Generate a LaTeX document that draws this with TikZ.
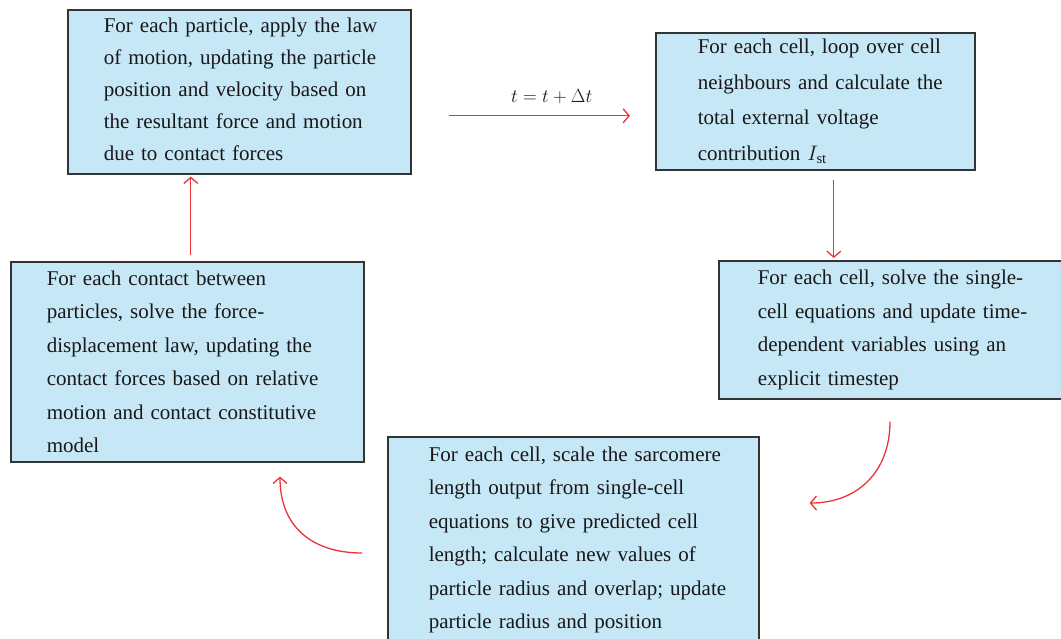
\RequirePackage{fix-cm}
\documentclass[tikz,border=0pt]{standalone}
\usepackage{fontspec}
\setmainfont{Liberation Serif}
\usetikzlibrary{arrows.meta}
\setlength\parindent{0pt}

\definecolor{boxfill}{HTML}{C5E7F6}
\definecolor{boxline}{HTML}{333333}
\definecolor{flowred}{HTML}{EE3338}
\definecolor{inktext}{HTML}{1A1718}

\tikzset{
	stage/.style={draw=boxline, fill=boxfill, line width=1.6pt, anchor=north west,
		inner sep=0pt, align=left, text=inktext,
		font=\fontsize{21}{33.5}\selectfont,
		execute at begin node={\leftskip=#1}},
	flow/.style={draw=flowred, line width=1.3pt, -{Straight Barb[length=6pt,width=14pt]}},
}

\begin{document}
\begin{tikzpicture}[x=1pt,y=-1pt]
	\useasboundingbox (0,0) rectangle (1061,638);
	\clip (0,0) rectangle (1061,638);

	% boxes
	\node[stage=36pt, text width=343pt, minimum height=164pt, inner ysep=0pt, font=\fontsize{21}{32}\selectfont] (motion) at (67,9)
		{For each particle, apply the law\\ of motion, updating the particle\\ position and velocity based on\\ the resultant force and motion\\ due to contact forces\vspace{4pt}};
	\node[stage=42pt, text width=319pt, minimum height=137pt, font=\fontsize{21}{35.5}\selectfont] (voltage) at (655,32)
		{For each cell, loop over cell\\ neighbours and calculate the\\ total external voltage\\ contribution $I_{\mathrm{st}}$};
	\node[stage=39pt, text width=360pt, minimum height=138pt] (solve) at (718,260)
		{For each cell, solve the single-\\ cell equations and update time-\\ dependent variables using an\\ explicit timestep};
	\node[stage=41pt, text width=371pt, minimum height=206pt] (cells) at (387,436)
		{For each cell, scale the sarcomere\\ length output from single-cell\\ equations to give predicted cell\\ length; calculate new values of\\ particle radius and overlap; update\\ particle radius and position};
	\node[stage=36pt, text width=353pt, minimum height=200pt] (contact) at (10,261)
		{For each contact between\\ particles, solve the force-\\ displacement law, updating the\\ contact forces based on relative\\ motion and contact constitutive\\ model};

	% connectors
	\coordinate (tstart) at ([shift={(37,24)}]motion.east);
	\draw[flow, shorten >=25pt] (tstart) -- (tstart -| voltage.west)
		node[midway, above=8pt, text=inktext, font=\fontsize{19}{20}\selectfont] (step) {$t = t + \Delta t$};

	\coordinate (vstart) at ([shift={(18.5,9)}]voltage.south);
	\draw[flow, shorten >=2pt] (vstart) -- (vstart |- solve.north);

	\draw[flow] ([shift={(172,22)}]solve.south west) .. controls +(0,50) and +(48,0) .. ([shift={(50,67)}]cells.north east);

	\draw[flow] ([shift={(-25,117)}]cells.north west) .. controls +(-50,0) and +(0,50) .. ([shift={(270,14)}]contact.south west);

	\coordinate (ustart) at ([shift={(3.5,-6)}]contact.north);
	\draw[flow, shorten >=2pt] (ustart) -- (ustart |- motion.south);
\end{tikzpicture}
\end{document}
